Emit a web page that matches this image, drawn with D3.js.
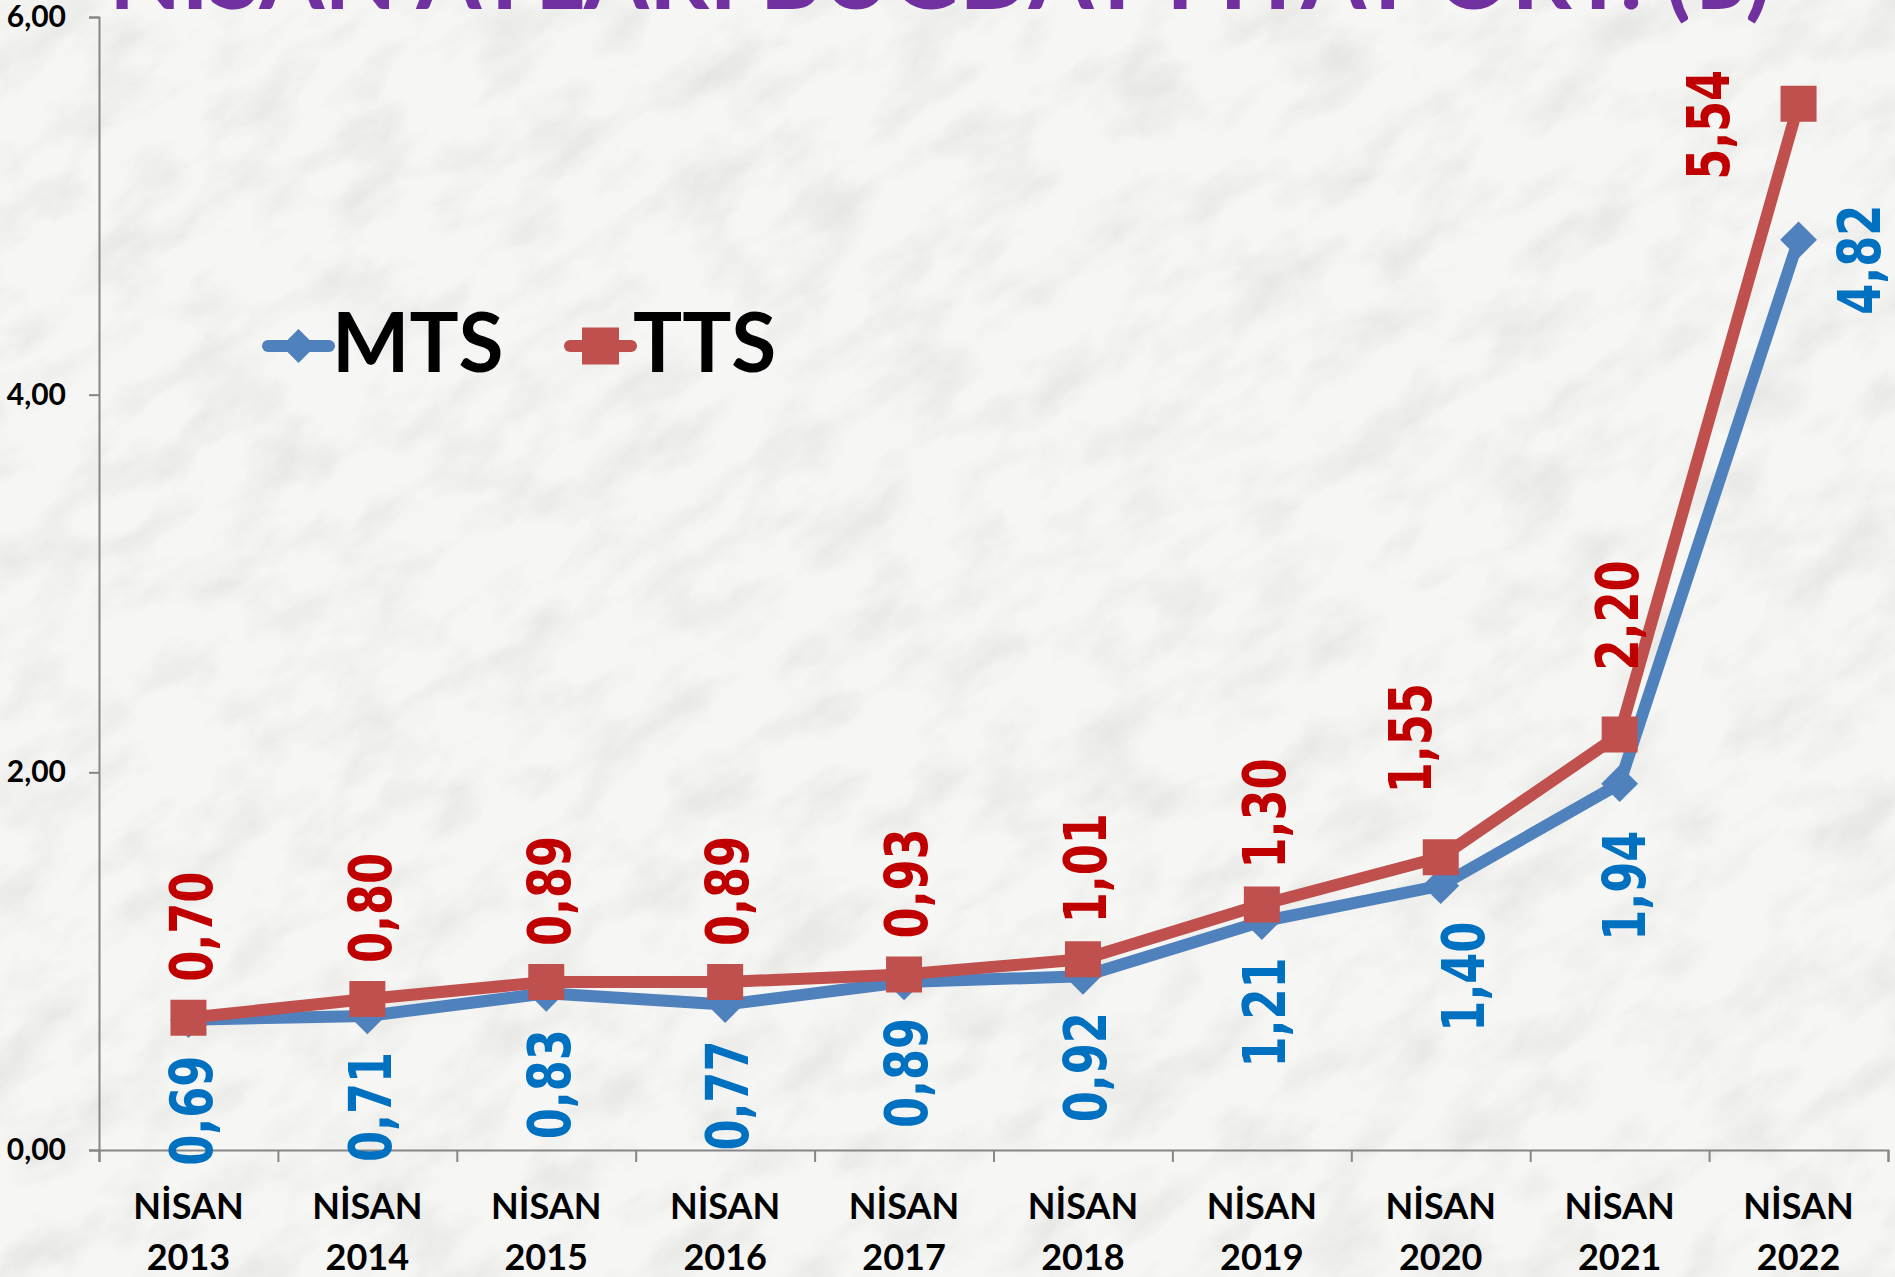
<!DOCTYPE html>
<html>
<head>
<meta charset="utf-8">
<script src="https://cdn.jsdelivr.net/npm/d3@7"></script>
<style>
  body { margin: 0; background: #f3f3f1; overflow: hidden; }
</style>
</head>
<body>
<svg id="chart" width="1895" height="1277"></svg>
<script>
// data
var monthName = 'NİSAN';
var years = ['2013', '2014', '2015', '2016', '2017', '2018', '2019', '2020', '2021', '2022'];
var mtsValues = [0.69, 0.71, 0.83, 0.77, 0.89, 0.92, 1.21, 1.40, 1.94, 4.82];
var ttsValues = [0.70, 0.80, 0.89, 0.89, 0.93, 1.01, 1.30, 1.55, 2.20, 5.54];
var yTickValues = [0, 2, 4, 6];
var titleText = 'NİSAN AYLARI BUĞDAY FİYAT ORT. (₺)';

var width = 1895, height = 1277;
var svg = d3.select('#chart');

// marble-ish background
var defs = svg.append('defs');
var f = defs.append('filter').attr('id', 'marble')
    .attr('x', 0).attr('y', 0).attr('width', 1).attr('height', 1);
f.append('feTurbulence')
    .attr('type', 'fractalNoise')
    .attr('baseFrequency', '0.012 0.022')
    .attr('numOctaves', 5)
    .attr('seed', 11);
f.append('feColorMatrix')
    .attr('type', 'matrix')
    .attr('values', '0 0 0 0 0.5  0 0 0 0 0.5  0 0 0 0 0.48  1.4 0 0 0 -0.6');

svg.append('rect').attr('width', width).attr('height', height).attr('fill', '#f6f6f4');
svg.append('g')
    .attr('transform', 'translate(950,640) rotate(-35) translate(-1400,-1400)')
    .append('rect')
    .attr('width', 2800).attr('height', 2800)
    .attr('filter', 'url(#marble)')
    .attr('opacity', 0.4);

var plotLeft = 99, plotRight = 1888, plotTop = 17, plotBottom = 1150;

var x = d3.scaleBand().domain(years).range([plotLeft, plotRight]).padding(0);
var y = d3.scaleLinear().domain([0, 6]).range([plotBottom, plotTop]);
var cx = function(d, i) { return x(years[i]) + x.bandwidth() / 2; };

var numFmt = function(v) { return d3.format('.2f')(v).replace('.', ','); };

// title (cut off at the top in the original)
svg.append('text')
    .attr('x', 109)
    .attr('y', 9)
    .attr('textLength', 1662)
    .attr('lengthAdjust', 'spacingAndGlyphs')
    .style('font-family', 'Lato, sans-serif')
    .style('font-weight', 'bold')
    .style('font-size', '92px')
    .attr('fill', '#7030A0')
    .text(titleText);

// y axis
var yAxis = svg.append('g')
    .attr('transform', 'translate(' + plotLeft + ',0)')
    .call(d3.axisLeft(y).tickValues(yTickValues).tickSize(10).tickPadding(23).tickFormat(numFmt));
yAxis.select('.domain').attr('stroke', '#868686').attr('stroke-width', 2);
yAxis.selectAll('.tick line').attr('stroke', '#868686').attr('stroke-width', 2);
yAxis.selectAll('.tick text')
    .style('font-family', 'Lato, sans-serif')
    .style('font-weight', 'bold')
    .style('font-size', '30px')
    .attr('fill', '#000');

// x axis: ticks on the category boundaries
var xEdges = d3.scaleLinear().domain([0, years.length]).range([plotLeft, plotRight]);
var xAxis = svg.append('g')
    .attr('transform', 'translate(0,' + plotBottom + ')')
    .call(d3.axisBottom(xEdges).ticks(years.length).tickSize(12).tickFormat(''));
xAxis.select('.domain').attr('stroke', '#868686').attr('stroke-width', 2);
xAxis.selectAll('.tick line').attr('stroke', '#868686').attr('stroke-width', 2);

var catLabels = svg.append('g').selectAll('text')
    .data(years)
    .enter()
    .append('text')
    .attr('text-anchor', 'middle')
    .style('font-family', 'Lato, sans-serif')
    .style('font-weight', 'bold')
    .style('font-size', '36px')
    .attr('fill', '#000');
catLabels.append('tspan')
    .attr('x', function(d) { return x(d) + x.bandwidth() / 2; })
    .attr('y', 1219)
    .text(monthName);
catLabels.append('tspan')
    .attr('x', function(d) { return x(d) + x.bandwidth() / 2; })
    .attr('y', 1270)
    .text(function(d) { return d; });

// series
var series = [
    { name: 'MTS', values: mtsValues, line: '#4F81BD', label: '#0070C0', symbol: d3.symbolDiamond, where: 'below' },
    { name: 'TTS', values: ttsValues, line: '#C0504D', label: '#C00000', symbol: d3.symbolSquare, where: 'above' }
];

var line = d3.line()
    .x(function(d, i) { return cx(d, i); })
    .y(function(d) { return y(d); });

series.forEach(function(s) {
    svg.append('path')
        .datum(s.values)
        .attr('d', line)
        .attr('fill', 'none')
        .attr('stroke', s.line)
        .attr('stroke-width', 12)
        .attr('stroke-linejoin', 'round');
});

// markers
series.forEach(function(s) {
    var isSq = s.symbol === d3.symbolSquare;
    svg.append('g').selectAll('path')
        .data(s.values)
        .enter()
        .append('path')
        .attr('d', d3.symbol().type(d3.symbolSquare).size(isSq ? 36 * 36 : 26 * 26))
        .attr('transform', function(d, i) {
            var t = 'translate(' + cx(d, i) + ',' + y(d) + ')';
            return isSq ? t : t + ' rotate(45)';
        })
        .attr('fill', s.line);
});

// data labels, rotated, a few moved by hand like in the original
var nudge = {
    'TTS7': { dx: -33, gap: 64 },
    'TTS8': { dx: -5, gap: 64 },
    'MTS7': { dx: 20, gap: 36 },
    'MTS8': { dx: 2, gap: 47 },
    'TTS9': { side: true, dx: -93, dy: 21 },
    'MTS9': { side: true, dx: 58, dy: 20 }
};

series.forEach(function(s) {
    svg.append('g').selectAll('text')
        .data(s.values)
        .enter()
        .append('text')
        .each(function(d, i) {
            var n = nudge[s.name + i] || {};
            var px = cx(d, i) + (n.dx || 0) + 2;
            var py = y(d);
            var anchor;
            if (n.side) {
                py = py + n.dy;
                anchor = 'middle';
            } else if (s.where === 'above') {
                py = py - (n.gap || 36);
                anchor = 'start';
            } else {
                py = py + (n.gap || 36);
                anchor = 'end';
            }
            d3.select(this)
                .attr('transform', 'translate(' + px + ',' + py + ') rotate(-90)')
                .attr('text-anchor', anchor)
                .attr('dy', '0.36em');
        })
        .attr('textLength', 110)
        .attr('lengthAdjust', 'spacingAndGlyphs')
        .style('font-family', '"DejaVu Sans Condensed", "DejaVu Sans", sans-serif')
        .style('font-weight', 'bold')
        .style('font-size', '59px')
        .attr('fill', s.label)
        .text(function(d) { return numFmt(d); });
});

// legend
var legend = svg.append('g');
var legendItems = [
    { s: series[0], x0: 268, tx: 332 },
    { s: series[1], x0: 570, tx: 633 }
];
legendItems.forEach(function(it) {
    legend.append('line')
        .attr('x1', it.x0).attr('x2', it.x0 + 61)
        .attr('y1', 346).attr('y2', 346)
        .attr('stroke', it.s.line)
        .attr('stroke-width', 12)
        .attr('stroke-linecap', 'round');
    var isSq = it.s.symbol === d3.symbolSquare;
    legend.append('path')
        .attr('d', d3.symbol().type(d3.symbolSquare).size(isSq ? 37 * 37 : 24 * 24))
        .attr('transform', 'translate(' + (it.x0 + 30.5) + ',346)' + (isSq ? '' : ' rotate(45)'))
        .attr('fill', it.s.line);
    legend.append('text')
        .attr('x', it.tx)
        .attr('y', 372)
        .style('font-family', 'Lato, sans-serif')
        .style('font-weight', 'bold')
        .style('font-size', '82px')
        .attr('fill', '#000')
        .text(it.s.name);
});
</script>
</body>
</html>
